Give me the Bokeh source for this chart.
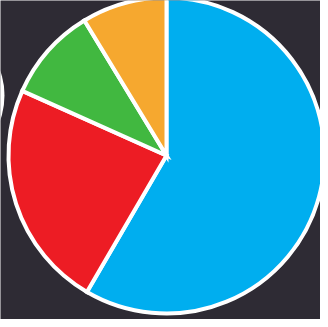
import numpy as np
from bokeh.plotting import figure
from bokeh.models import Range1d, ColumnDataSource
from bokeh.embed import file_html
from bokeh.resources import INLINE

# Data, clockwise from 12 o'clock
categories = ["Blue", "Red", "Green", "Orange"]
values = [58.4, 23.3, 9.6, 8.7]
colors = ["#00AEEF", "#ED1C24", "#41B840", "#F6A82F"]

BG = "#2E2B34"

p = figure(width=320, height=319, output_backend="svg", toolbar_location=None,
           x_range=Range1d(0, 320), y_range=Range1d(0, 319),
           min_border=0, background_fill_color=BG, border_fill_color=BG,
           outline_line_color=None)
p.axis.visible = False
p.grid.visible = False

# partial white shape cut off at the left edge
p.ellipse(x=[-29], y=[224], width=[66], height=[100], fill_color="white", line_color=None)

vals = np.array(values, dtype=float)
frac = vals / vals.sum()
ends = np.pi / 2 - 2 * np.pi * np.cumsum(frac)
starts = np.concatenate([[np.pi / 2], ends[:-1]])

src = ColumnDataSource(dict(cat=categories, start=starts, end=ends, color=colors))
p.wedge(x=166, y=164, radius=158, start_angle="start", end_angle="end",
        direction="clock", fill_color="color", line_color="white", line_width=4,
        line_join="miter", source=src)

open("out.html", "w").write(file_html(p, INLINE))
